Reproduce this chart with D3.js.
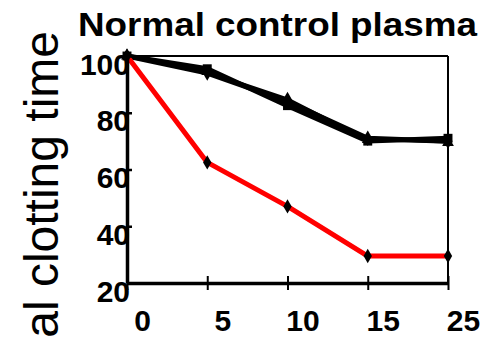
<!DOCTYPE html>
<html lang="en">
<head>
    <meta charset="UTF-8">
    <title>Normal control plasma</title>
    <script src="https://d3js.org/d3.v7.min.js"></script>
    <style>
        body { margin: 0; background: #fff; }
        text { font-family: "Liberation Sans", Arial, sans-serif; }
    </style>
</head>
<body>
    <script>
        // time points (categorical, evenly spaced)
        var times = ['0', '5', '10', '15', '25'];
        var y_ticks = [20, 40, 60, 80, 100];

        // % of normal clotting time
        var control_a = [100, 95.5, 82.5, 70, 71];   // squares
        var control_b = [100, 94, 84, 71, 70];       // diamonds
        var control_c = [100, 94.5, 85, 70.5, 69.5]; // triangles
        var treated = [100, 62.5, 47, 29.5, 29.5];   // red line

        var width = 496;
        var height = 338;
        // plot box
        var plot_left = 127, plot_right = 448, plot_top = 56, plot_bottom = 283;

        var svg = d3.select('body').append('svg')
            .attr('width', width)
            .attr('height', height);

        var x = d3.scalePoint().domain(times).range([plot_left, plot_right]);
        var y = d3.scaleLinear().domain([20, 100]).range([plot_bottom, plot_top]);

        // title
        svg.append('text')
            .attr('x', 78)
            .attr('y', 36)
            .attr('font-size', 33)
            .attr('font-weight', 'bold')
            .attr('textLength', 399)
            .attr('lengthAdjust', 'spacingAndGlyphs')
            .text('Normal control plasma');

        // y axis title, cut off by the left edge like the original
        svg.append('text')
            .attr('transform', 'translate(58,31) rotate(-90)')
            .attr('text-anchor', 'end')
            .attr('font-size', 48)
            .text('% of normal clotting time');

        // top and right border (thin)
        svg.append('line')
            .attr('x1', plot_left).attr('x2', plot_right)
            .attr('y1', plot_top).attr('y2', plot_top)
            .attr('stroke', '#000').attr('stroke-width', 2);
        svg.append('line')
            .attr('x1', plot_right).attr('x2', plot_right)
            .attr('y1', plot_top).attr('y2', plot_bottom)
            .attr('stroke', '#000').attr('stroke-width', 2);

        var line = d3.line()
            .x(function (d, i) { return x(times[i]); })
            .y(function (d) { return y(d); });

        function draw_series(values, color, w, marker, size) {
            svg.append('path')
                .datum(values)
                .attr('d', line)
                .attr('fill', 'none')
                .attr('stroke', color)
                .attr('stroke-width', w)
                .attr('stroke-linejoin', 'round');
            svg.append('g').selectAll('path')
                .data(values)
                .enter()
                .append('path')
                .attr('transform', function (d, i) {
                    return 'translate(' + x(times[i]) + ',' + y(d) + ')';
                })
                .attr('d', d3.symbol().type(marker).size(size))
                .attr('fill', '#000');
        }

        draw_series(control_c, '#000', 2.5, d3.symbolTriangle, 60);
        draw_series(control_b, '#000', 5, d3.symbolDiamond, 70);
        draw_series(control_a, '#000', 5, d3.symbolSquare, 80);
        draw_series(treated, '#ff0000', 5, d3.symbolDiamond, 60);

        // y axis, ticks inside
        var y_axis = svg.append('g')
            .attr('transform', 'translate(' + plot_left + ',0)')
            .call(d3.axisLeft(y).tickValues(y_ticks).tickSize(-5).tickSizeOuter(0).tickPadding(-3));
        y_axis.select('.domain').attr('stroke-width', 3.5);
        y_axis.selectAll('.tick line').attr('stroke-width', 2.5);
        y_axis.selectAll('.tick text')
            .attr('font-size', 30)
            .attr('font-weight', 'bold')
            .attr('fill', '#000')
            .attr('font-family', '"Liberation Sans", Arial, sans-serif')
            .attr('dy', '0.6em');

        // x axis, ticks crossing the line
        var x_axis = svg.append('g')
            .attr('transform', 'translate(0,' + plot_bottom + ')')
            .call(d3.axisBottom(x).tickSize(7).tickSizeOuter(0).tickPadding(0));
        x_axis.select('.domain').attr('stroke-width', 3.5);
        x_axis.selectAll('.tick line').attr('y1', -7).attr('stroke-width', 2);
        x_axis.selectAll('.tick text')
            .attr('font-size', 30)
            .attr('font-weight', 'bold')
            .attr('fill', '#000')
            .attr('font-family', '"Liberation Sans", Arial, sans-serif')
            .attr('x', 15)
            .attr('y', 48)
            .attr('dy', 0);
    </script>
</body>
</html>
